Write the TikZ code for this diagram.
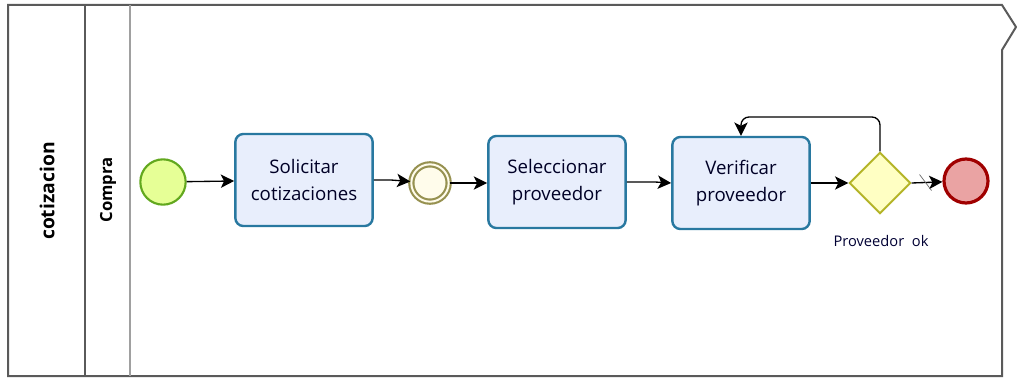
\documentclass[tikz,border=0pt]{standalone}
\usepackage{fontspec}
\setmainfont{Open Sans}
\usepackage{tikz}
\usetikzlibrary{arrows.meta, shapes.geometric}
\definecolor{startfill}{RGB}{230, 255, 150}
\definecolor{startline}{RGB}{98, 168, 30}
\definecolor{taskfill}{RGB}{232, 238, 252}
\definecolor{taskline}{RGB}{40, 120, 160}
\definecolor{midfill}{RGB}{255, 252, 235}
\definecolor{midline}{RGB}{150, 145, 80}
\definecolor{gwfill}{RGB}{255, 255, 195}
\definecolor{gwline}{RGB}{180, 180, 40}
\definecolor{endfill}{RGB}{234, 163, 163}
\definecolor{endline}{RGB}{160, 0, 0}
\definecolor{poolline}{RGB}{90, 90, 90}
\definecolor{laneline}{RGB}{160, 160, 160}

\tikzset{
  task/.style={draw=taskline, fill=taskfill, line width=1.8pt, rounded corners=6pt,
    minimum width=103pt, minimum height=69pt, align=center, font=\fontsize{14}{20}\selectfont,
    text=black!85!blue},
  startev/.style={circle, draw=startline, fill=startfill, line width=1.6pt, minimum size=34pt, inner sep=0pt},
  midev/.style={circle, draw=midline, double=midfill, fill=midfill, line width=1.6pt,
    double distance=1.5pt, minimum size=28pt, inner sep=0pt},
  endev/.style={circle, draw=endline, fill=endfill, line width=2.4pt, minimum size=33pt, inner sep=0pt},
  gateway/.style={diamond, draw=gwline, fill=gwfill, line width=1.5pt, minimum width=46pt,
    minimum height=46pt, inner sep=0pt},
  flow/.style={draw=black, line width=1pt, -{Stealth[length=10pt, width=10pt, inset=2.5pt]}},
}

\begin{document}
\begin{tikzpicture}[x=0.75pt, y=-0.75pt]
  \useasboundingbox (0,0) rectangle (1017,378);

  % pool and lane
  \draw[poolline, line width=1.5pt] (8,5) -- (1002,5) -- (1016,27) -- (1002,50) -- (1002,376) -- (8,376) -- cycle;
  \draw[poolline, line width=1.5pt] (85,5) -- (85,376);
  \draw[laneline, line width=1.2pt] (130,5) -- (130,376);
  \node[rotate=90, font=\fontsize{14.5}{16}\selectfont\bfseries] (pool) at (47,191) {cotizacion};
  \node[rotate=90, font=\fontsize{12.5}{14}\selectfont\bfseries] (lane) at (108,190) {Compra};

  % flow objects
  \node[startev] (start) at (163,182) {};
  \node[task] (solicitar) at (304,180) {Solicitar\\cotizaciones};
  \node[midev] (espera) at (430,183) {};
  \node[task] (seleccionar) at (557,182) {Seleccionar\\proveedor};
  \node[task] (verificar) at (741,183) {Verificar\\proveedor};
  \node[gateway] (gw) at (880,183) {};
  \node[endev] (fin) at (966,181) {};
  \node[font=\fontsize{11}{13}\selectfont, text=black!80!blue] (gwlabel) at (881,241) {Proveedor\ \ ok};

  % sequence flows
  \draw[flow] (start) -- (solicitar);
  \draw[flow] (solicitar.east) -- ++(17,0) -- (espera);
  \draw[flow] (espera) -- (seleccionar.west |- espera);
  \draw[flow] (seleccionar.east) -- ++(28,0) -- (verificar.west |- espera);
  \draw[flow] (verificar.east |- gw) -- (gw);
  \draw[flow] (gw.east) -- coordinate[pos=0.45] (dflt) (fin);
  \draw[line width=0.5pt, black!60] (dflt) ++(-6,-8) -- ++(12,16);
  \coordinate (loop) at (741,117);
  \draw[flow, rounded corners=6pt] (gw.north) |- (loop) -- (verificar.north);
\end{tikzpicture}
\end{document}
